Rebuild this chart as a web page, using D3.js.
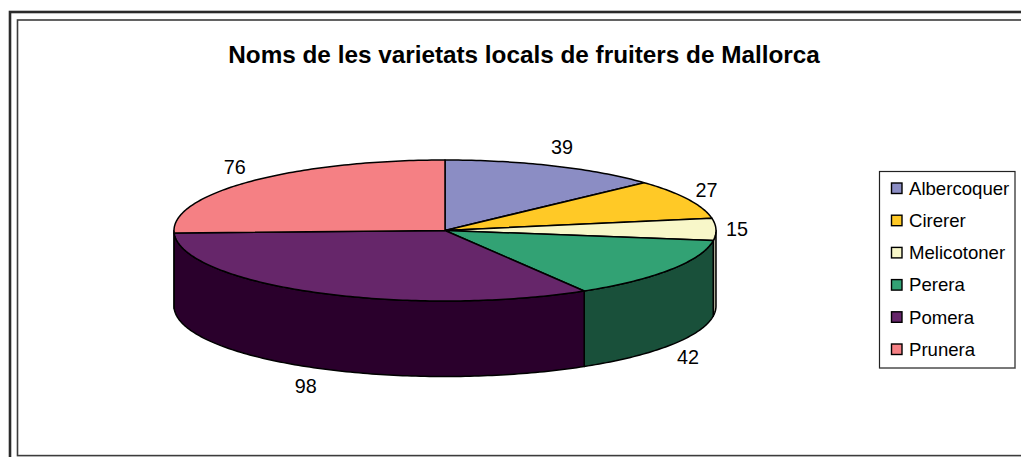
<!DOCTYPE html>
<html>
<head>
<meta charset="utf-8">
<script src="https://cdn.jsdelivr.net/npm/d3@7"></script>
<style>
  html, body { margin: 0; background: #fff; overflow: hidden; }
  text { font-family: "Liberation Sans", Arial, sans-serif; fill: #000; }
</style>
</head>
<body>
<svg id="chart" width="1021" height="457"></svg>
<script>
const chartTitle = 'Noms de les varietats locals de fruiters de Mallorca'
const categories = ['Albercoquer', 'Cirerer', 'Melicotoner', 'Perera', 'Pomera', 'Prunera']
const values = [39, 27, 15, 42, 98, 76]
const topColors = ['#8b8dc4', '#ffc926', '#f8f7c9', '#32a274', '#66266a', '#f58084']
const sideColors = ['#45466a', '#806413', '#a9a994', '#19503a', '#2a002c', '#7a4042']

const svg = d3.select('#chart')
const width = +svg.attr('width')
const height = +svg.attr('height')

// marcs exteriors
svg.append('rect').attr('x', 10).attr('y', 12).attr('width', width + 20).attr('height', height + 20)
  .attr('fill', 'none').attr('stroke', '#2b2b2b').attr('stroke-width', 2.6)
svg.append('rect').attr('x', 17.5).attr('y', 20).attr('width', width + 20).attr('height', 435.6)
  .attr('fill', 'none').attr('stroke', '#3c3c3c').attr('stroke-width', 1.6)

svg.append('text')
  .attr('x', 524).attr('y', 63)
  .attr('text-anchor', 'middle')
  .style('font-size', '24.3px').style('font-weight', 'bold')
  .text(chartTitle)

// el·lipse del pastis
const cx = 445
const cy = 230.5
const rx = 271
const ry = 70.5
const depth = 75.5
const x = d3.scaleLinear().domain([-1, 1]).range([cx - rx, cx + rx])
const y = d3.scaleLinear().domain([-1, 1]).range([cy - ry, cy + ry])

const rim = (a, drop = 0) => [x(Math.sin(a)), y(-Math.cos(a)) + drop]
const arcAngles = (a0, a1) => {
  const n = Math.max(2, Math.ceil((a1 - a0) * 60))
  return d3.range(n + 1).map(i => a0 + (a1 - a0) * i / n)
}
const line = d3.line()

const slices = d3.pie().sort(null).value(d => d.value)(
  categories.map((name, i) => ({ name, value: values[i], top: topColors[i], side: sideColors[i] }))
)

const pie = svg.append('g')
  .attr('stroke', '#000').attr('stroke-width', 1.5).attr('stroke-linejoin', 'round')

// parets: nomes la meitat davantera
slices.forEach(d => {
  const a0 = Math.max(d.startAngle, Math.PI / 2)
  const a1 = Math.min(d.endAngle, Math.PI * 1.5)
  if (a1 <= a0) return
  const angles = arcAngles(a0, a1)
  const pts = angles.map(a => rim(a)).concat(angles.slice().reverse().map(a => rim(a, depth)))
  pie.append('path').attr('d', line(pts) + 'Z').attr('fill', d.data.side)
})

// cara superior
slices.forEach(d => {
  const pts = [[x(0), y(0)]].concat(arcAngles(d.startAngle, d.endAngle).map(a => rim(a)))
  pie.append('path').attr('d', line(pts) + 'Z').attr('fill', d.data.top)
})

// etiquetes de valor
const pad = 21
svg.append('g').selectAll('text')
  .data(slices)
  .enter().append('text')
  .attr('x', d => cx + (rx + pad) * Math.sin((d.startAngle + d.endAngle) / 2))
  .attr('y', d => {
    const mid = (d.startAngle + d.endAngle) / 2
    return cy - (ry + pad) * Math.cos(mid) + (mid > Math.PI / 2 && mid < Math.PI * 1.5 ? depth : 0)
  })
  .attr('dy', '0.35em')
  .attr('text-anchor', 'middle')
  .style('font-size', '19.8px')
  .text(d => d.data.value)

// llegenda
const legendY = d3.scalePoint().domain(categories).range([188, 349])
svg.append('rect').attr('x', 879.5).attr('y', 171.5).attr('width', 135.5).attr('height', 196.5)
  .attr('fill', '#fff').attr('stroke', '#222').attr('stroke-width', 1.2)
svg.append('line').attr('x1', 879.5).attr('x2', 1015.5).attr('y1', 368.3).attr('y2', 368.3)
  .attr('stroke', '#777').attr('stroke-width', 1.2)

const rows = svg.append('g').selectAll('g')
  .data(categories)
  .enter().append('g')
  .attr('transform', d => `translate(0,${legendY(d)})`)

rows.append('rect')
  .attr('x', 891.5).attr('y', -5).attr('width', 10.5).attr('height', 10.5)
  .attr('fill', (d, i) => topColors[i])
  .attr('stroke', '#000').attr('stroke-width', 1.4)

rows.append('text')
  .attr('x', 909).attr('dy', '0.36em')
  .style('font-size', '18.6px')
  .text(d => d)
</script>
</body>
</html>
